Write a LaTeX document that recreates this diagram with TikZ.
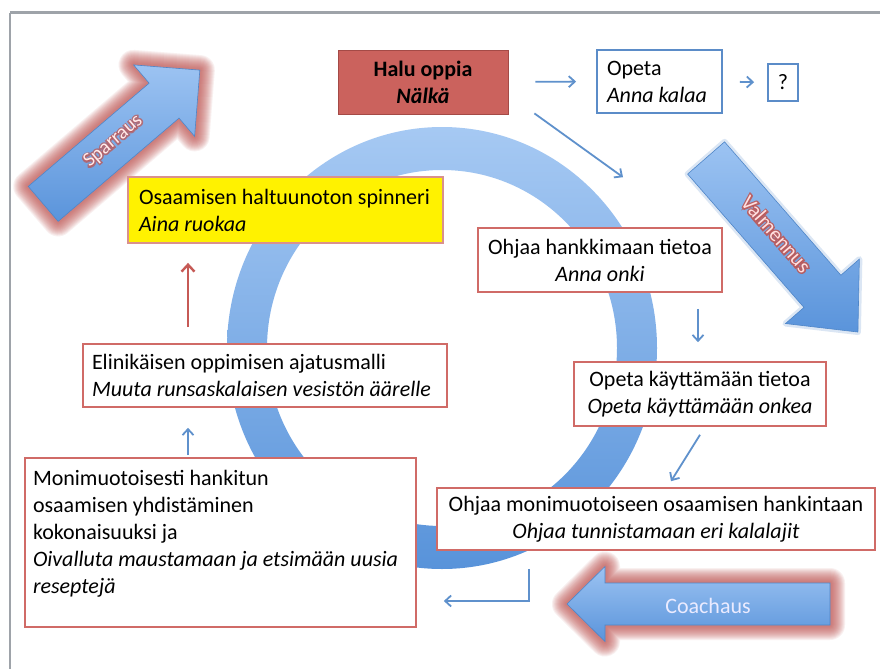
\documentclass[tikz,border=0pt]{standalone}
\usepackage{fontspec}
\setmainfont{Carlito}
\newfontfamily\halofont[FakeBold=14]{Carlito}
\usetikzlibrary{arrows.meta,calc}

\definecolor{framegray}{HTML}{9EA3A9}
\definecolor{ringlight}{HTML}{A6C9F3}
\definecolor{ringdark}{HTML}{5893DA}
\definecolor{arrowlight}{HTML}{9CC3F2}
\definecolor{arrowdark}{HTML}{5A94DB}
\definecolor{arrowedge}{HTML}{4F86C8}
\definecolor{glowred}{HTML}{BF5350}
\definecolor{halufill}{HTML}{CB625D}
\definecolor{haluedge}{HTML}{A44A46}
\definecolor{rededge}{HTML}{D06B67}
\definecolor{yellowedge}{HTML}{DA918C}
\definecolor{blueedge}{HTML}{5B8CC8}
\definecolor{connblue}{HTML}{5F91CC}
\definecolor{connred}{HTML}{C65A56}

\newcommand{\boxfont}{\fontsize{22}{27}\selectfont}
% block arrow outline: length, body width, head width, head length (tip on +x)
\newcommand{\blockarrowpath}[4]{(-#1/2,-#2/2) -- (#1/2-#4,-#2/2) -- (#1/2-#4,-#3/2) -- (#1/2,0) -- (#1/2-#4,#3/2) -- (#1/2-#4,#2/2) -- (-#1/2,#2/2) -- cycle}
% soft red glow round a block arrow, built from stacked translucent strokes
\newcommand{\arrowglow}[4]{%
  \foreach \lw in {4,6,...,30}
    \draw[glowlayer, line width=\lw pt, opacity=0.085] \blockarrowpath{#1}{#2}{#3}{#4};}

\tikzset{
  box/.style={draw=rededge, line width=1.6pt, fill=white, inner sep=0pt, font=\boxfont, text=black},
  conn/.style={draw=connblue, line width=1.8pt, -{Straight Barb[length=6pt,width=11pt]}},
  redconn/.style={draw=connred, line width=2.4pt, -{Straight Barb[length=7pt,width=13pt]}},
  glowlayer/.style={draw=glowred, line join=round},
}

\begin{document}
\begin{tikzpicture}[x=1pt,y=-1pt]
\useasboundingbox (0,0) rectangle (880,669);
\fill[white] (0,0) rectangle (880,669);

% slide frame
\draw[framegray, line width=3pt] (10,13) -- (880,13);
\draw[framegray, line width=2.5pt] (10,13) -- (10,669);

% the cycle ring
\shade[top color=ringlight, bottom color=ringdark, even odd rule]
  (442,348) ellipse [x radius=215pt, y radius=221pt]
  (442,348) ellipse [x radius=175pt, y radius=178pt];

% Sparraus block arrow
\begin{scope}[shift={(121.5,137)}, rotate=40.5]
  \arrowglow{206}{46}{94}{47}
  \shade[top color=arrowlight, bottom color=arrowdark] \blockarrowpath{206}{46}{94}{47};
  \draw[arrowedge, line width=0.6pt] \blockarrowpath{206}{46}{94}{47};
  \node[transform shape, text=glowred, opacity=0.7, font=\halofont\fontsize{20}{22}\selectfont] (sparhalo) at (-9,-2) {Sparraus};
  \node[transform shape, text=white!92!red, font=\fontsize{20}{22}\selectfont] (sparlabel) at (-9,-2) {Sparraus};
\end{scope}

% Valmennus block arrow
\begin{scope}[shift={(782,245)}, rotate=-48.9]
  \draw[draw=arrowedge, line width=6pt, opacity=0.2, line join=round] \blockarrowpath{231}{49}{98}{54};
  \shade[top color=arrowlight, bottom color=arrowdark] \blockarrowpath{231}{49}{98}{54};
  \draw[arrowedge, line width=0.6pt] \blockarrowpath{231}{49}{98}{54};
  \node[transform shape, text=glowred, opacity=0.85, font=\halofont\fontsize{21}{23}\selectfont] (valmhalo) at (-12,-3) {Valmennus};
  \node[transform shape, text=white!88!red, font=\fontsize{21}{23}\selectfont] (valmlabel) at (-12,-3) {Valmennus};
\end{scope}

% Coachaus block arrow (points left)
\begin{scope}[shift={(698.5,604)}, xscale=-1]
  \arrowglow{263}{42}{75}{38}
  \shade[top color=arrowlight, bottom color=arrowdark] \blockarrowpath{263}{42}{75}{38};
  \draw[arrowedge, line width=0.6pt] \blockarrowpath{263}{42}{75}{38};
\end{scope}
\node[text=white!92!blue, font=\fontsize{22}{24}\selectfont] (coachlabel) at (708,606) {Coachaus};

% boxes
\node[box, fill=halufill, draw=haluedge, line width=0.8pt, minimum width=170pt, minimum height=64pt, align=center]
  (halu) at (423,82) {\textbf{Halu oppia}\\\textbf{\textit{Nälkä}}};
\node[box, draw=blueedge, line width=1.8pt, inner xsep=10pt, text width=105pt, minimum height=63pt, align=flush left]
  (opeta) at (659.5,81.5) {Opeta\\\textit{Anna kalaa}};
\node[box, draw=blueedge, line width=1.8pt, minimum width=30pt, minimum height=37pt]
  (quest) at (783,82.5) {?};
\node[box, fill=yellow, draw=yellowedge, line width=1.8pt, inner xsep=11pt, text width=293pt, minimum height=66pt, align=flush left]
  (spinner) at (285.5,210) {Osaamisen haltuunoton spinneri\\\textit{Aina ruokaa}};
\node[box, minimum width=244pt, minimum height=64pt, align=center]
  (onki) at (600,260) {Ohjaa hankkimaan tietoa\\\textit{Anna onki}};
\node[box, minimum width=252pt, minimum height=64pt, align=center]
  (onkea) at (700,394) {Opeta käyttämään tietoa\\\textit{Opeta käyttämään onkea}};
\node[box, minimum width=438pt, minimum height=62pt, align=center]
  (lajit) at (656,519) {Ohjaa monimuotoiseen osaamisen hankintaan\\\textit{Ohjaa tunnistamaan eri kalalajit}};
\node[box, inner xsep=8pt]
  (resepti) at (220.5,542.5) {\parbox[c][169pt][t]{375pt}{\raggedright\rule{0pt}{27pt}Monimuotoisesti hankitun\\
    osaamisen yhdistäminen\\
    kokonaisuuksi ja\\
    \textit{Oivalluta maustamaan ja etsimään uusia}\\
    \textit{reseptejä}}};
\node[box, inner xsep=9pt, text width=346pt, minimum height=63pt, align=flush left]
  (malli) at (265,375.5) {Elinikäisen oppimisen ajatusmalli\\\textit{Muuta runsaskalaisen vesistön äärelle}};

% connectors
\draw[conn, shorten <=27pt, shorten >=20pt] (halu.east) -- (opeta.west);
\draw[conn, shorten <=17pt, shorten >=13pt] (opeta.east) -- (quest.west);
\coordinate (h1) at ($(halu.south east)+(26,-1)$);
\coordinate (h2) at ($(onki.north)+(23,-50)$);
\draw[conn] (h1) -- (h2);
\coordinate (o1) at ($(onki.south)+(98,16)$);
\coordinate (o2) at ($(onkea.north)+(-2,-19)$);
\draw[conn] (o1) -- (o2);
\coordinate (k1) at ($(onkea.south)+(0,8)$);
\coordinate (k2) at ($(lajit.north)+(15,-6)$);
\draw[conn] (k1) -- (k2);
\coordinate (l1) at ($(lajit.south)+(-127,18)$);
\coordinate (l2) at ($(resepti.east)+(27,58.5)$);
\draw[conn] (l1) |- (l2);
\draw[conn, shorten <=2pt, shorten >=20pt] (resepti.north -| 188,0) -- (malli.south -| 188,0);
\draw[redconn, shorten <=16pt, shorten >=19pt] (malli.north -| 188,0) -- (spinner.south -| 188,0);
\end{tikzpicture}
\end{document}
